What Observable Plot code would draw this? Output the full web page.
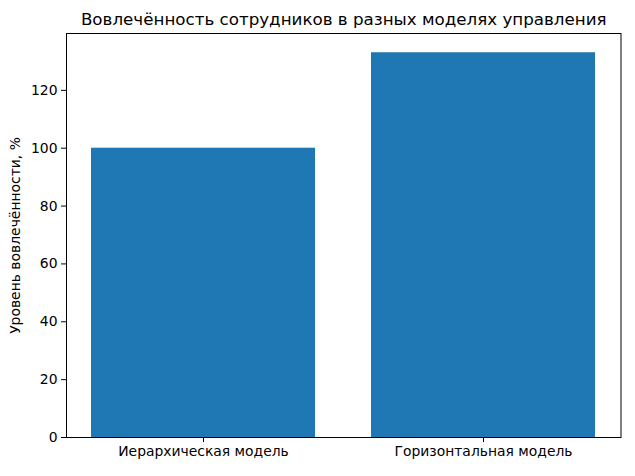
<!DOCTYPE html>
<html>
<head>
<meta charset="utf-8">
<script src="https://cdn.jsdelivr.net/npm/d3@7"></script>
<script src="https://cdn.jsdelivr.net/npm/@observablehq/plot@0.6"></script>
<style>
  html, body { margin: 0; padding: 0; background: #fff; }
  svg { display: block; }
</style>
</head>
<body>
<div id="chart"></div>
<script>
const categories = ["Иерархическая модель", "Горизонтальная модель"];
const values = [100, 133];
const yTicks = [0, 20, 40, 60, 80, 100, 120];
const title = "Вовлечённость сотрудников в разных моделях управления";
const yLabel = "Уровень вовлечённости, %";

const data = categories.map((c, i) => ({category: c, value: values[i]}));
const font = "DejaVu Sans, sans-serif";

const chart = Plot.plot({
  width: 635,
  height: 476,
  marginLeft: 66,
  marginRight: 14.5,
  marginTop: 33,
  marginBottom: 39,
  style: {fontFamily: font, fontSize: "13.9px", color: "#000", background: "#fff"},
  x: {domain: categories, paddingInner: 0.2, paddingOuter: 0.09, label: null},
  y: {domain: [0, 139.65], label: null},
  marks: [
    Plot.barY(data, {x: "category", y: "value", fill: "#1f77b4", inset: 0}),
    Plot.frame({stroke: "#000", strokeWidth: 1}),
    Plot.axisY({ticks: yTicks, tickSize: 5, tickPadding: 4, fontSize: 13.9, stroke: "#000", label: null}),
    Plot.axisX({tickSize: 5, tickPadding: 4, fontSize: 13.9, stroke: "#000", label: null}),
    Plot.text([title], {text: d => d, frameAnchor: "top", dy: -14, fontSize: 16.7, fill: "#000", lineAnchor: "middle"}),
    Plot.text([yLabel], {text: d => d, frameAnchor: "left", dx: -51, rotate: -90, textAnchor: "middle", fontSize: 13.9, fill: "#000", lineAnchor: "middle"})
  ]
});
document.getElementById("chart").appendChild(chart);
</script>
</body>
</html>
